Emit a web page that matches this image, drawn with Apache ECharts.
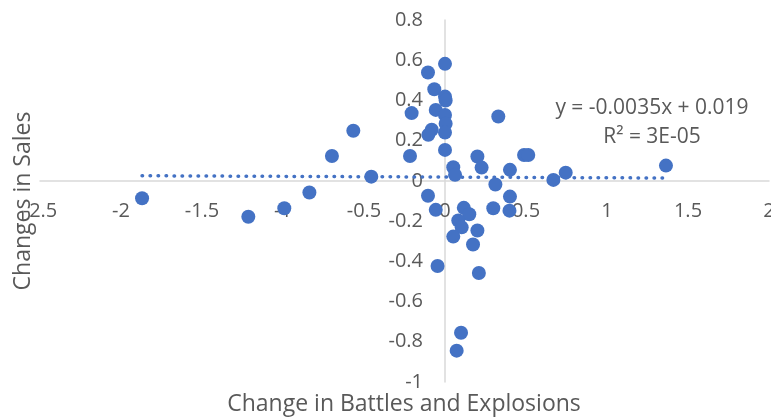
<!DOCTYPE html>
<html>
<head>
<meta charset="utf-8">
<script src="https://cdn.jsdelivr.net/npm/echarts@6/dist/echarts.min.js"></script>
<style>
  html, body { margin: 0; padding: 0; background: #fff; }
  #main { width: 771px; height: 417px; }
</style>
</head>
<body>
<div id="main"></div>
<script>
var battleChange = [
  -1.87, -1.214, -0.992, -0.837, -0.698, -0.566, -0.455, -0.216, -0.206, -0.105,
  -0.066, -0.057, -0.082, -0.103, 0.0, 0.0, 0.004, 0.0, 0.004, 0.0,
  0.0, 0.329, 0.2, 0.051, 0.062, 0.226, 0.311, 0.401, 0.488, 0.514,
  0.669, 0.745, 1.364, -0.105, -0.057, -0.046, 0.116, 0.15, 0.082, 0.103,
  0.051, 0.2, 0.173, 0.209, 0.099, 0.072, 0.298, 0.398, 0.401
];
var salesChange = [
  -0.086, -0.178, -0.136, -0.058, 0.124, 0.249, 0.021, 0.124, 0.337, 0.539,
  0.456, 0.353, 0.254, 0.229, 0.582, 0.419, 0.40, 0.328, 0.284, 0.24,
  0.154, 0.32, 0.121, 0.068, 0.030, 0.066, -0.018, 0.055, 0.129, 0.129,
  0.005, 0.041, 0.076, -0.074, -0.144, -0.423, -0.134, -0.166, -0.197, -0.231,
  -0.277, -0.247, -0.316, -0.458, -0.755, -0.844, -0.136, -0.148, -0.078
];
var trendSlope = -0.0035;
var trendIntercept = 0.019;
var equationLines = ["y = -0.0035x + 0.019", "R² = 3E-05"];

var points = battleChange.map(function (x, i) { return [x, salesChange[i]]; });
var xMin = Math.min.apply(null, battleChange);
var xMax = Math.max.apply(null, battleChange);
var trend = [
  [xMin, trendSlope * xMin + trendIntercept],
  [xMax, trendSlope * xMax + trendIntercept]
];

var textColor = "#595959";
var font = "'Open Sans', 'Liberation Sans', sans-serif";

// plot area in pixels, axes cross at zero like Excel
var gridLeft = 40, gridRight = 2, gridTop = 20, gridBottom = 35;
var plotW = 771 - gridLeft - gridRight;
var plotH = 417 - gridTop - gridBottom;
var xZeroOffset = plotW * (0 - -2.5) / (2 - -2.5);
var yZeroOffset = plotH * (0 - -1) / (0.8 - -1);

var chart = echarts.init(document.getElementById("main"));
var option = {
  animation: false,
  grid: { left: gridLeft, right: gridRight, top: gridTop, bottom: gridBottom, outerBoundsMode: "none", containLabel: false },
  xAxis: {
    type: "value",
    min: -2.5,
    max: 2,
    interval: 0.5,
    position: "bottom",
    offset: -yZeroOffset,
    axisLine: { onZero: false, lineStyle: { color: "#d9d9d9", width: 1.5 } },
    axisTick: { show: false },
    splitLine: { show: false },
    axisLabel: { color: textColor, fontSize: 20, fontFamily: font, margin: 20, hideOverlap: false }
  },
  yAxis: {
    type: "value",
    min: -1,
    max: 0.8,
    interval: 0.2,
    position: "left",
    offset: -xZeroOffset,
    axisLine: { onZero: false, lineStyle: { color: "#d9d9d9", width: 1.5 } },
    axisTick: { show: false },
    splitLine: { show: false },
    axisLabel: {
      color: textColor, fontSize: 20, fontFamily: font, margin: 22, hideOverlap: false,
      formatter: function (v) { return String(Math.round(v * 10) / 10); }
    }
  },
  graphic: [
    {
      type: "text",
      x: 23, y: 201,
      rotation: Math.PI / 2,
      style: { text: "Changes in Sales", fill: textColor, font: "23px " + font, align: "center", verticalAlign: "middle" }
    },
    {
      type: "text",
      x: 652, y: 108,
      style: { text: equationLines[0], fill: textColor, font: "21px " + font, align: "center", verticalAlign: "middle" }
    },
    {
      type: "text",
      x: 652, y: 137,
      style: { text: equationLines[1], fill: textColor, font: "21px " + font, align: "center", verticalAlign: "middle" }
    },
    {
      type: "text",
      x: 404, y: 404,
      style: { text: "Change in Battles and Explosions", fill: textColor, font: "23px " + font, align: "center", verticalAlign: "middle" }
    }
  ],
  series: [
    {
      type: "scatter",
      data: points,
      symbolSize: 14,
      itemStyle: { color: "#4472c4", opacity: 1 },
      z: 3
    },
    {
      type: "line",
      data: trend,
      symbol: "none",
      lineStyle: { color: "#4472c4", width: 3.5, type: [0.5, 7.5], cap: "round" },
      z: 2
    }
  ]
};
chart.setOption(option);
</script>
</body>
</html>
